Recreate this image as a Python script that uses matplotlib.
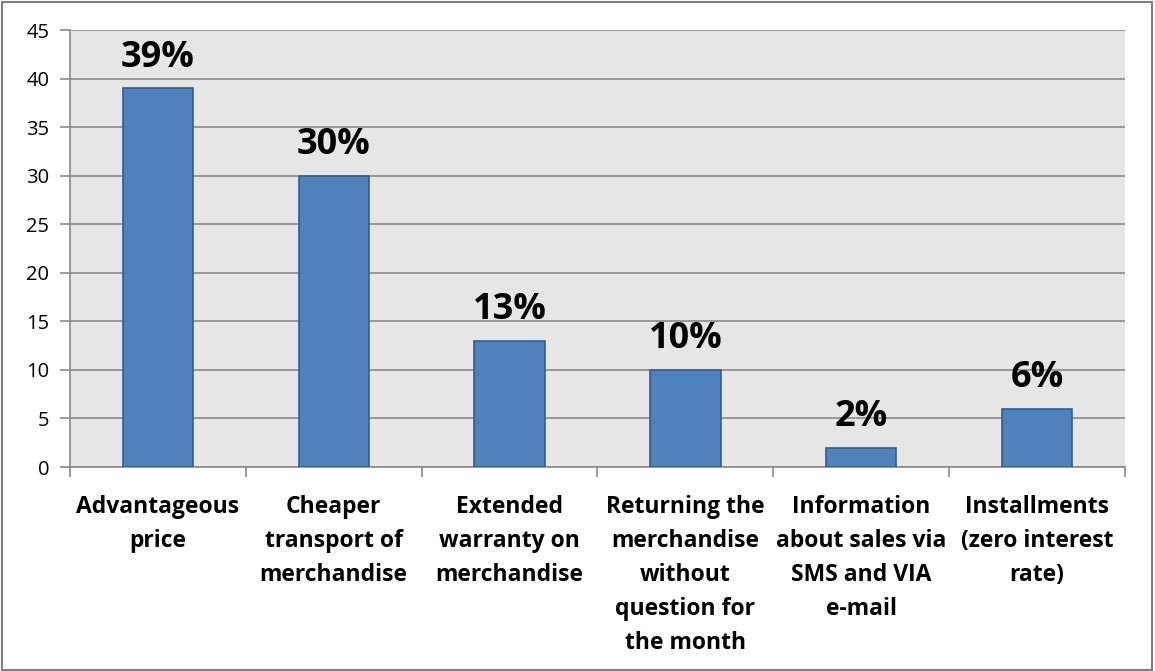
import matplotlib
matplotlib.use("Agg")
import matplotlib.pyplot as plt
from matplotlib.patches import Rectangle

categories = ["Advantageous\nprice", "Cheaper\ntransport of\nmerchandise",
              "Extended\nwarranty on\nmerchandise",
              "Returning the\nmerchandise\nwithout\nquestion for\nthe month",
              "Information\nabout sales via\nSMS and VIA\ne-mail",
              "Installments\n(zero interest\nrate)"]
values = [39, 30, 13, 10, 2, 6]
labels = ["39%", "30%", "13%", "10%", "2%", "6%"]
yticks = [0, 5, 10, 15, 20, 25, 30, 35, 40, 45]

plt.rcParams['font.family'] = ['Open Sans', 'DejaVu Sans']

fig = plt.figure(figsize=(11.55, 6.71), dpi=100)
ax = fig.add_axes([0.0606, 0.304, 0.9134, 0.651])
ax.set_facecolor('#E6E6E6')

x = list(range(len(values)))
ax.bar(x, values, width=0.40, color='#4F81BD', edgecolor='#385D8A', linewidth=1.2, zorder=3)
for xi, v, lab in zip(x, values, labels):
    ax.annotate(lab, (xi, v), xytext=(0, 9), textcoords='offset points',
                ha='center', va='bottom', fontsize=26, fontweight='bold', color='black')

ax.set_xlim(-0.5, len(values) - 0.5)
ax.set_ylim(0, 45)
ax.set_yticks(yticks)
ax.set_yticklabels([str(t) for t in yticks], fontsize=14.5)
ax.yaxis.grid(True, color='#8A8A8A', linewidth=1.2, zorder=0)
ax.set_axisbelow(True)

ax.set_xticks(x)
ax.set_xticklabels(categories, fontsize=16.5, fontweight='bold', linespacing=1.56, va='top')
ax.tick_params(axis='x', which='major', length=0, pad=20)
ax.set_xticks([i - 0.5 for i in range(len(values) + 1)], minor=True)
ax.tick_params(axis='x', which='minor', length=7, width=1.2, color='#8A8A8A', direction='out')
ax.tick_params(axis='y', length=7, width=1.2, color='#8A8A8A', direction='out', pad=8)

for s in ['top', 'right']:
    ax.spines[s].set_visible(False)
ax.spines['left'].set_color('#8A8A8A')
ax.spines['left'].set_linewidth(1.2)
ax.spines['bottom'].set_color('#8A8A8A')
ax.spines['bottom'].set_linewidth(1.2)

fig.patches.append(Rectangle((0.002, 0.002), 0.995, 0.995, transform=fig.transFigure,
                             fill=False, edgecolor='#808080', linewidth=1.5))

fig.savefig('out.png', dpi=100, facecolor='white')
